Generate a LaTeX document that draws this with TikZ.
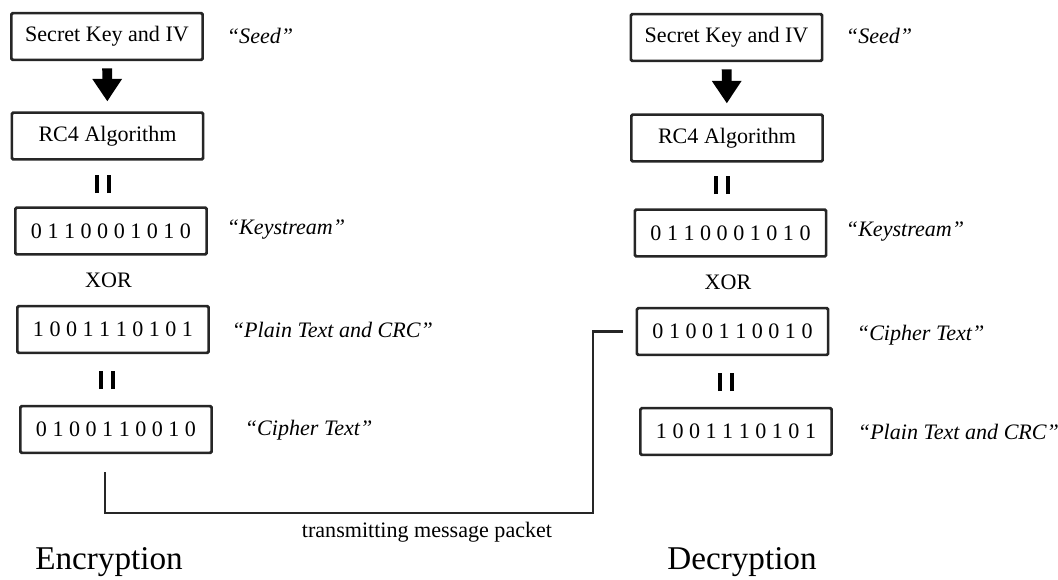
\documentclass[tikz,border=0pt]{standalone}
\usepackage{fontspec}
\setmainfont{Liberation Serif}
\usetikzlibrary{arrows.meta}

\tikzset{
  block/.style={draw=black!85, line width=1.9pt, rounded corners=1pt,
    minimum width=4.78cm, minimum height=1.17cm, inner sep=0pt},
  note/.style={anchor=west, font=\fontsize{15.7}{18}\selectfont\itshape},
  bigarrow/.style={line width=7pt, -{Triangle[width=20pt,length=16pt]},
    shorten <=5pt, shorten >=7pt},
  link/.style={line width=1.8pt, black!85},
  title/.style={font=\fontsize{23.6}{28}\selectfont},
}
\newcommand{\eqbars}{\rule{3pt}{13pt}\hspace{5pt}\rule{3pt}{13pt}}

\begin{document}
\begin{tikzpicture}[x=0.025cm, y=-0.025cm, font=\fontsize{15.7}{18}\selectfont]
\useasboundingbox (0,0) rectangle (1058,579);

% encryption side
\node[block] (ekey) at (107,36.5) {Secret Key and IV};
\node[note] (eseed) at (222,36) {“Seed”};
\node[block] (erc4) at (107.5,136) {RC4 Algorithm};
\draw[bigarrow] (ekey) -- (erc4);
\node (eeq1) at (103,184) {\eqbars};
\node[block] (ekeys) at (111,231) {0 1 1 0 0 0 1 0 1 0};
\node[note] (ekeyslab) at (222,230) {“Keystream”};
\node (exor) at (108.5,280) {XOR};
\node[block] (eplain) at (113,329.5) {1 0 0 1 1 1 0 1 0 1};
\node[note] (eplainlab) at (227,330) {“Plain Text and CRC”};
\node (eeq2) at (107,380) {\eqbars};
\node[block] (ecipher) at (116,429.5) {0 1 0 0 1 1 0 0 1 0};
\node[note] (ecipherlab) at (240,430) {“Cipher Text”};
\node[title] (enc) at (109,562) {Encryption};

% decryption side
\node[block] (dkey) at (726.5,37.5) {Secret Key and IV};
\node[note] (dseed) at (841,36) {“Seed”};
\node[block] (drc4) at (727,138) {RC4 Algorithm};
\draw[bigarrow] (dkey) -- (drc4);
\node (deq1) at (722,185) {\eqbars};
\node[block] (dkeys) at (730.5,233) {0 1 1 0 0 0 1 0 1 0};
\node[note] (dkeyslab) at (841,232) {“Keystream”};
\node (dxor) at (728,282) {XOR};
\node[block] (dcipher) at (732.5,331.5) {0 1 0 0 1 1 0 0 1 0};
\node[note] (dcipherlab) at (852,335) {“Cipher Text”};
\node (deq2) at (726,382) {\eqbars};
\node[block] (dplain) at (736,431.5) {1 0 0 1 1 1 0 1 0 1};
\node[note] (dplainlab) at (853,432) {“Plain Text and CRC”};
\node[title] (dec) at (742,562) {Decryption};

% channel
\coordinate (ctop) at (105,472);
\coordinate (bend) at (593,513);
\draw[link, shorten >=9pt] (ctop) |- (bend) |- (dcipher.west);
\node (trans) at (427,532) {transmitting message packet};
\end{tikzpicture}
\end{document}
